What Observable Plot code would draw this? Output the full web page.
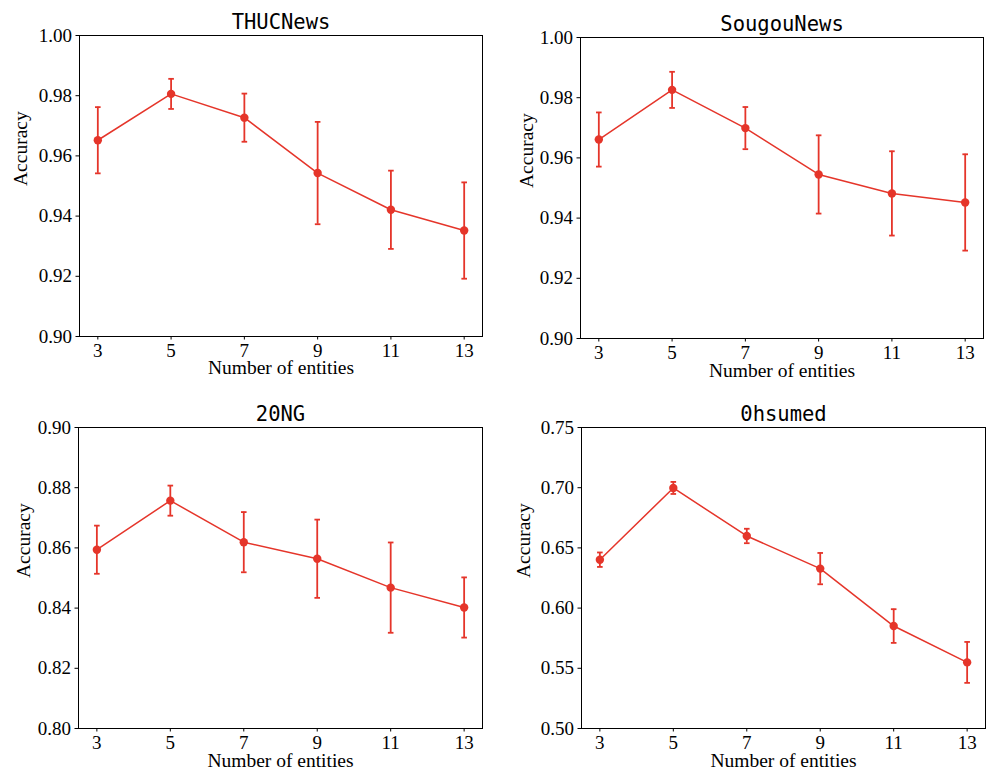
<!DOCTYPE html>
<html>
<head>
<meta charset="utf-8">
<script src="https://cdn.jsdelivr.net/npm/d3@7"></script>
<script src="https://cdn.jsdelivr.net/npm/@observablehq/plot@0.6"></script>
<style>
  html, body { margin: 0; padding: 0; background: white; }
  #wrap { position: relative; width: 988px; height: 771px; }
  .cell { position: absolute; }
</style>
</head>
<body>
<div id="wrap"></div>
<script>
// ---- data ----
const entities = [3, 5, 7, 9, 11, 13];
const xTicks = [3, 5, 7, 9, 11, 13];

const thucMean = [0.9652, 0.9806, 0.9727, 0.9543, 0.9421, 0.9352];
const thucErr  = [0.0110, 0.0050, 0.0080, 0.0170, 0.0130, 0.0160];

const sougouMean = [0.9661, 0.9826, 0.9699, 0.9545, 0.9482, 0.9452];
const sougouErr  = [0.0090, 0.0060, 0.0070, 0.0130, 0.0140, 0.0160];

const ngMean = [0.8594, 0.8757, 0.8619, 0.8564, 0.8468, 0.8402];
const ngErr  = [0.0080, 0.0050, 0.0100, 0.0130, 0.0150, 0.0100];

const ohsMean = [0.6402, 0.6998, 0.6599, 0.6328, 0.5851, 0.5549];
const ohsErr  = [0.0060, 0.0050, 0.0060, 0.0130, 0.0140, 0.0170];

const titles = ["THUCNews", "SougouNews", "20NG", "0hsumed"];
const yTicksTop = [0.90, 0.92, 0.94, 0.96, 0.98, 1.00];
const yTicksNG = [0.80, 0.82, 0.84, 0.86, 0.88, 0.90];
const yTicksOhs = [0.50, 0.55, 0.60, 0.65, 0.70, 0.75];

const xLabel = "Number of entities";
const yLabel = "Accuracy";

const RED = "#e5352a";
const SERIF = "'Liberation Serif', 'Times New Roman', serif";

// custom horizontal-cap symbol for error bar caps
const capSymbol = {
  draw(ctx, size) {
    const w = Math.sqrt(size / Math.PI);
    ctx.moveTo(-w, 0);
    ctx.lineTo(w, 0);
  }
};

function panel(cfg) {
  const data = entities.map((x, i) => ({
    x, y: cfg.mean[i], lo: cfg.mean[i] - cfg.err[i], hi: cfg.mean[i] + cfg.err[i]
  }));
  const caps = data.flatMap(d => [{x: d.x, y: d.lo}, {x: d.x, y: d.hi}]);
  return Plot.plot({
    width: cfg.w, height: cfg.h,
    marginLeft: cfg.ml, marginRight: cfg.mr, marginTop: cfg.mt, marginBottom: cfg.mb,
    style: {fontFamily: SERIF, fontSize: "19px", color: "black", background: "white", overflow: "visible"},
    x: {domain: [2.5, 13.5], ticks: xTicks, label: null},
    y: {domain: cfg.ydomain, ticks: cfg.yticks, label: null, tickFormat: d3.format(".2f")},
    marks: [
      Plot.axisX({ticks: xTicks, tickSize: 3.5, tickPadding: 3, fontSize: 19, fontFamily: SERIF, label: null, stroke: "black"}),
      Plot.axisY({ticks: cfg.yticks, tickSize: 3.5, tickPadding: 4, fontSize: 19, fontFamily: SERIF, label: null, tickFormat: d3.format(".2f"), stroke: "black"}),
      Plot.line(data, {x: "x", y: "y", stroke: RED, strokeWidth: 1.5}),
      Plot.ruleX(data, {x: "x", y1: "lo", y2: "hi", stroke: RED, strokeWidth: 1.8}),
      Plot.dot(caps, {x: "x", y: "y", symbol: capSymbol, r: 2.8, stroke: RED, strokeWidth: 1.8, fill: "none"}),
      Plot.dot(data, {x: "x", y: "y", r: 4.2, fill: RED, stroke: "none"}),
      Plot.frame({stroke: "black", strokeWidth: 1}),
      Plot.text([cfg.title], {frameAnchor: "top", lineAnchor: "middle", dy: -13.5, text: d => d, fontSize: 20.5, fontFamily: "'DejaVu Sans Mono', monospace", fill: "black"}),
      Plot.text([xLabel], {frameAnchor: "bottom", lineAnchor: "middle", dy: cfg.xdy, text: d => d, fontSize: 19.5, fontFamily: SERIF, fill: "black"}),
      Plot.text([yLabel], {frameAnchor: "left", lineAnchor: "middle", dx: cfg.ydx, rotate: -90, text: d => d, fontSize: 19.5, fontFamily: SERIF, fill: "black"})
    ]
  });
}

const cfgs = [
  {left: 0, top: 0, w: 494, h: 385, ml: 79, mr: 12, mt: 35, mb: 49, mean: thucMean, err: thucErr, ydomain: [0.90, 1.00], yticks: yTicksTop, title: titles[0], ydx: -59, xdy: 31},
  {left: 494, top: 0, w: 494, h: 385, ml: 86, mr: 5, mt: 37, mb: 47, mean: sougouMean, err: sougouErr, ydomain: [0.90, 1.00], yticks: yTicksTop, title: titles[1], ydx: -54, xdy: 32},
  {left: 0, top: 385, w: 494, h: 386, ml: 78, mr: 12, mt: 42, mb: 43, mean: ngMean, err: ngErr, ydomain: [0.80, 0.90], yticks: yTicksNG, title: titles[2], ydx: -55, xdy: 32},
  {left: 494, top: 385, w: 494, h: 386, ml: 87, mr: 3, mt: 42, mb: 43, mean: ohsMean, err: ohsErr, ydomain: [0.50, 0.75], yticks: yTicksOhs, title: titles[3], ydx: -58, xdy: 32}
];

const wrap = document.getElementById("wrap");
for (const c of cfgs) {
  const div = document.createElement("div");
  div.className = "cell";
  div.style.left = c.left + "px";
  div.style.top = c.top + "px";
  div.appendChild(panel(c));
  wrap.appendChild(div);
}
</script>
</body>
</html>
